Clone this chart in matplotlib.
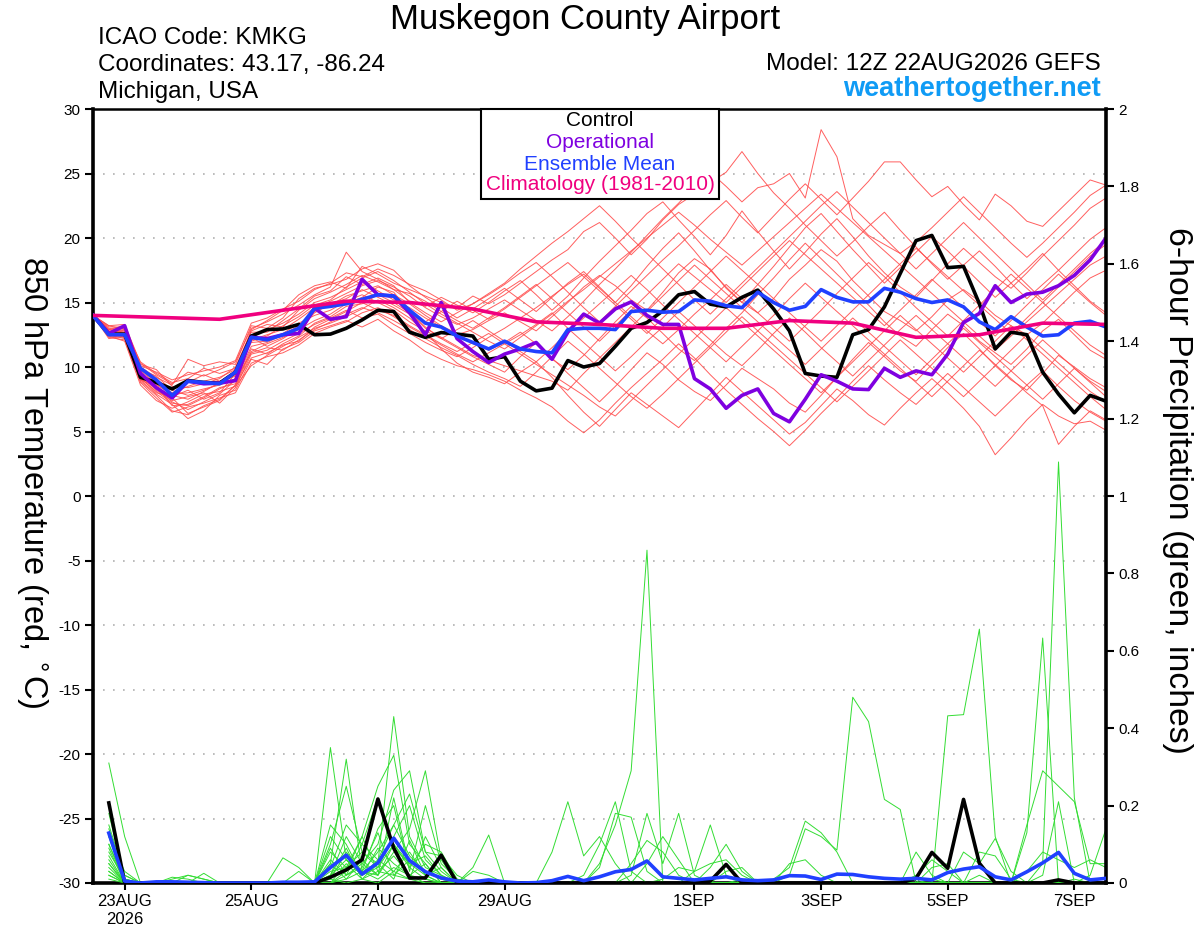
import numpy as np
import matplotlib.pyplot as plt
from matplotlib.patches import Rectangle

plt.rcParams['font.family'] = ['Liberation Sans', 'DejaVu Sans']
plt.rcParams['axes.unicode_minus'] = False

# forecast hours from 12Z 22AUG2026, 6-hourly
hours = np.arange(0, 385, 6)
precip_hours = hours[1:]
clim_hours = np.arange(0, 385, 24)

tick_hours = [12, 60, 108, 156, 228, 276, 324, 372]
tick_labels = ['23AUG\n2026', '25AUG', '27AUG', '29AUG', '1SEP', '3SEP', '5SEP', '7SEP']

# 850 hPa temperature (C)
control_t = [14.0, 12.55, 12.55, 9.2, 8.8, 8.3, 8.95, 8.8, 8.75, 9.6, 12.4, 12.9, 12.95,
             13.3, 12.5, 12.55, 13.0, 13.65, 14.4, 14.3, 12.7, 12.3, 12.67, 12.55, 12.4, 10.6,
             10.8, 8.9, 8.15, 8.36, 10.5, 10.0, 10.27, 11.6, 13.0, 13.45, 14.35, 15.6, 15.85,
             14.87, 14.66, 15.4, 15.96, 14.5, 12.8, 9.5, 9.3, 9.2, 12.5, 12.9, 14.66, 17.25,
             19.8, 20.2, 17.7, 17.8, 14.9, 11.4, 12.7, 12.5, 9.6, 7.9, 6.45, 7.8, 7.35]
operational_t = [14.0, 12.6, 13.2, 9.5, 8.4, 7.6, 8.9, 8.7, 8.75, 8.95, 12.3, 12.2, 12.5,
                 12.6, 14.55, 13.7, 13.9, 16.8, 15.6, 15.5, 14.2, 12.5, 15.0, 12.2, 11.2, 10.35,
                 11.0, 11.4, 11.9, 10.6, 12.7, 14.1, 13.4, 14.5, 15.05, 14.0, 13.3, 13.3, 9.1,
                 8.3, 6.8, 7.8, 8.3, 6.4, 5.75, 7.5, 9.4, 8.9, 8.3, 8.25, 9.9, 9.2,
                 9.7, 9.4, 11.0, 13.45, 14.15, 16.3, 15.0, 15.65, 15.8, 16.3, 17.1, 18.3, 20.0]
mean_t = [14.0, 12.5, 12.5, 9.9, 9.0, 7.8, 8.9, 8.8, 8.7, 9.6, 12.3, 12.1, 12.5,
          13.0, 14.55, 14.7, 14.9, 15.25, 15.6, 15.5, 14.4, 13.4, 13.1, 12.4, 11.9, 11.4,
          12.0, 11.4, 11.2, 11.1, 12.9, 13.0, 13.0, 12.9, 14.3, 14.4, 14.25, 14.3, 15.2,
          15.1, 14.75, 14.6, 15.8, 15.0, 14.4, 14.7, 16.0, 15.4, 15.05, 15.05, 16.1, 15.8,
          15.3, 15.0, 15.2, 14.66, 13.5, 12.9, 13.9, 13.1, 12.4, 12.5, 13.4, 13.55, 13.1]
climatology_t = [14.0, 13.85, 13.7, 14.4, 15.1, 15.0, 14.5, 13.5, 13.3,
                 13.0, 13.0, 13.6, 13.4, 12.3, 12.5, 13.4, 13.3]

member_temps = [
    [14.0, 12.9, 12.6, 9.8, 8.8, 8.0, 8.5, 8.9, 9.2, 9.8, 12.4, 12.9, 13.4,
     14.1, 15.0, 15.4, 16.0, 16.6, 15.9, 15.2, 14.6, 13.8, 13.1, 12.5, 12.9, 13.6,
     14.2, 13.5, 12.8, 13.9, 15.0, 16.2, 17.1, 16.3, 15.2, 14.4, 15.8, 17.3, 18.4,
     17.6, 16.1, 15.0, 14.2, 15.3, 16.8, 17.9, 19.1, 18.2, 16.7, 15.5, 14.3, 13.6,
     12.8, 13.9, 15.2, 16.0, 15.1, 14.0, 13.2, 12.5, 13.4, 14.6, 15.8, 16.9, 17.5],
    [14.0, 12.5, 12.2, 9.1, 8.1, 7.2, 7.0, 7.6, 8.3, 8.9, 11.6, 11.9, 12.5,
     13.2, 14.3, 14.8, 15.5, 15.9, 16.3, 15.6, 14.9, 14.0, 13.2, 12.6, 11.8, 11.3,
     11.9, 12.7, 11.8, 10.6, 9.8, 10.9, 12.2, 13.5, 14.7, 13.8, 12.6, 11.4, 10.5,
     11.7, 13.0, 14.2, 15.6, 16.9, 18.3, 19.6, 18.4, 17.2, 16.0, 14.8, 13.5, 12.4,
     11.6, 12.9, 14.1, 13.2, 12.0, 11.1, 10.2, 11.4, 12.8, 13.7, 12.5, 11.3, 10.6],
    [14.0, 13.2, 13.3, 10.3, 9.4, 8.7, 9.6, 9.3, 9.8, 10.4, 13.0, 13.5, 14.1,
     14.8, 15.6, 16.2, 18.9, 17.4, 16.8, 16.0, 15.1, 14.7, 15.4, 14.8, 14.2, 15.0,
     15.9, 16.7, 15.6, 14.4, 15.5, 16.9, 18.2, 19.4, 20.6, 21.9, 22.8, 21.4, 20.1,
     18.7, 20.2, 22.1, 20.5, 19.0, 17.6, 18.9, 20.3, 21.5, 20.1, 18.6, 17.3, 16.2,
     15.4, 16.7, 18.0, 19.2, 18.1, 17.0, 16.1, 17.3, 18.6, 19.8, 21.0, 22.3, 23.1],
    [14.0, 12.7, 12.9, 9.4, 8.4, 7.6, 6.4, 6.9, 7.4, 8.6, 11.2, 11.8, 12.3,
     12.9, 13.6, 14.1, 14.9, 15.4, 16.2, 15.8, 14.3, 13.1, 12.2, 11.5, 10.8, 10.2,
     9.6, 10.8, 11.9, 10.7, 9.5, 8.4, 7.3, 8.5, 9.8, 11.1, 10.2, 9.0, 8.1,
     7.4, 8.6, 9.9, 9.1, 8.3, 7.2, 6.5, 7.8, 9.2, 10.6, 11.9, 10.8, 9.7,
     8.9, 10.2, 11.5, 12.6, 11.4, 10.1, 9.0, 8.2, 9.5, 10.9, 10.0, 9.1, 8.4],
    [14.0, 12.4, 12.0, 8.6, 7.4, 6.8, 7.3, 7.9, 8.1, 8.5, 10.1, 10.9, 11.6,
     12.3, 13.0, 13.4, 13.9, 14.5, 15.2, 14.6, 13.8, 12.7, 11.4, 10.3, 9.6, 9.2,
     8.7, 9.6, 10.4, 9.2, 7.8, 6.5, 5.4, 6.7, 8.0, 7.1, 6.2, 5.3, 6.6,
     7.9, 9.2, 8.1, 7.0, 5.9, 4.8, 5.7, 7.0, 8.3, 7.4, 6.3, 5.5, 6.8,
     8.0, 9.1, 8.0, 6.8, 5.4, 3.2, 4.5, 5.9, 7.1, 6.2, 5.6, 5.8, 5.1],
    [14.0, 12.9, 13.0, 10.0, 9.2, 8.6, 10.6, 10.1, 10.4, 10.2, 13.2, 13.0, 13.8,
     15.3, 16.1, 16.4, 16.8, 17.6, 18.0, 17.5, 16.3, 15.4, 14.6, 13.8, 14.5, 15.3,
     16.1, 15.2, 14.3, 15.4, 16.5, 17.4, 16.2, 15.0, 16.3, 17.8, 19.2, 20.4, 19.0,
     17.5, 16.2, 15.0, 16.4, 17.8, 19.3, 20.8, 21.9, 20.5, 19.1, 17.8, 16.5, 17.7,
     18.9, 20.1, 19.0, 17.8, 16.6, 15.4, 16.5, 17.6, 18.8, 17.5, 16.3, 15.1, 14.2],
    [14.0, 12.6, 12.4, 9.0, 7.9, 7.1, 6.0, 6.6, 7.8, 8.2, 10.6, 10.2, 11.4,
     11.9, 12.8, 13.2, 13.6, 13.1, 13.7, 12.8, 12.1, 11.2, 10.6, 10.1, 9.8, 9.4,
     8.9, 8.2, 7.6, 6.9, 5.8, 4.9, 5.9, 7.2, 8.4, 9.5, 10.6, 11.8, 10.7,
     9.4, 8.2, 7.1, 6.0, 5.0, 3.9, 5.1, 6.4, 7.6, 8.9, 10.1, 9.0, 8.0,
     7.1, 8.3, 9.5, 8.4, 7.3, 6.2, 7.4, 8.6, 9.7, 8.5, 7.4, 6.5, 5.8],
    [14.0, 13.1, 13.1, 9.9, 9.0, 8.3, 8.8, 9.4, 8.9, 9.4, 12.9, 13.6, 14.4,
     15.6, 16.3, 16.6, 16.1, 17.8, 17.2, 16.5, 16.0, 15.5, 15.0, 14.6, 15.5, 14.9,
     15.6, 16.5, 17.4, 18.3, 19.1, 20.5, 21.2, 20.0, 18.7, 19.9, 21.4, 22.6, 23.4,
     24.3, 25.1, 26.7, 25.0, 23.5, 22.3, 21.0, 19.8, 18.6, 19.7, 20.9, 22.0, 20.6,
     19.3, 18.0, 16.8, 17.9, 19.0, 17.8, 16.5, 15.3, 16.4, 17.5, 18.7, 19.9, 20.8],
    [14.0, 12.3, 12.1, 8.8, 7.6, 6.5, 6.9, 7.2, 7.6, 8.0, 10.3, 10.8, 11.1,
     11.7, 12.6, 13.1, 13.5, 14.2, 14.6, 13.9, 13.1, 12.4, 11.7, 11.0, 10.4, 11.1,
     11.8, 12.5, 13.3, 14.2, 13.0, 11.9, 10.8, 9.7, 10.8, 12.0, 13.1, 14.3, 13.2,
     12.1, 11.0, 10.1, 11.3, 12.6, 13.8, 12.7, 11.5, 10.4, 9.3, 10.5, 11.7, 12.9,
     14.0, 12.9, 11.8, 10.7, 9.6, 8.5, 9.7, 10.9, 12.1, 11.0, 9.9, 8.9, 8.1],
    [14.0, 12.8, 12.7, 9.5, 8.6, 7.9, 8.0, 8.3, 8.6, 9.1, 12.1, 12.5, 12.9,
     13.7, 14.6, 15.1, 15.7, 16.3, 16.7, 16.2, 15.5, 14.6, 13.9, 13.3, 13.8, 14.5,
     15.2, 14.4, 13.6, 12.8, 13.9, 15.1, 16.4, 17.6, 18.9, 20.2, 21.5, 22.7, 24.0,
     25.1, 24.0, 22.8, 23.9, 24.2, 25.0, 23.1, 28.4, 26.3, 21.5, 20.2, 19.5, 18.8,
     19.7, 20.8, 22.0, 23.2, 22.0, 20.8, 19.6, 18.5, 19.6, 20.8, 22.0, 23.3, 24.1],
    [14.0, 12.6, 12.3, 9.3, 8.2, 7.4, 7.7, 8.0, 7.2, 8.4, 11.0, 11.3, 12.0,
     12.6, 13.3, 13.8, 14.4, 13.8, 14.1, 13.3, 12.6, 11.9, 11.3, 10.8, 11.5, 12.3,
     13.0, 13.8, 14.6, 15.5, 16.4, 17.2, 16.1, 15.0, 13.9, 12.8, 11.8, 12.9, 14.1,
     15.2, 16.4, 15.3, 14.2, 13.1, 12.0, 13.2, 14.4, 15.7, 16.9, 18.1, 17.0, 15.8,
     14.6, 13.5, 12.4, 13.6, 14.8, 16.0, 17.2, 16.1, 15.0, 13.9, 12.8, 11.7, 10.9],
    [14.0, 13.0, 12.8, 10.1, 9.6, 9.0, 9.4, 9.7, 10.0, 10.5, 13.4, 13.8, 14.5,
     15.1, 16.0, 16.5, 17.3, 17.0, 17.6, 17.1, 16.4, 15.9, 15.2, 14.4, 14.9, 15.6,
     16.4, 17.3, 18.1, 17.0, 15.8, 14.6, 13.5, 14.7, 15.9, 17.1, 18.3, 19.4, 20.6,
     21.8, 22.9, 21.6, 20.4, 21.7, 23.0, 24.2, 23.0, 21.8, 23.1, 24.4, 25.9, 25.9,
     24.5, 23.2, 24.0, 22.6, 21.4, 23.4, 22.5, 21.3, 20.9, 22.1, 23.3, 24.5, 24.1],
    [14.0, 12.5, 12.6, 9.2, 8.0, 7.7, 8.2, 7.5, 8.0, 9.5, 11.9, 12.0, 12.6,
     13.4, 14.0, 14.4, 15.1, 15.6, 15.0, 14.4, 13.5, 12.8, 12.2, 12.9, 13.6, 12.8,
     12.0, 11.2, 10.4, 11.5, 12.7, 13.8, 14.9, 16.0, 17.1, 16.0, 14.8, 13.7, 12.6,
     11.5, 10.4, 11.6, 12.8, 14.0, 15.3, 16.5, 15.4, 14.3, 13.2, 12.1, 11.0, 9.9,
     8.8, 7.7, 8.9, 10.1, 11.3, 10.2, 9.1, 8.0, 7.0, 4.0, 5.4, 6.6, 5.9],
    [14.0, 12.7, 12.5, 9.7, 8.7, 7.8, 7.5, 8.1, 8.8, 9.3, 12.3, 11.6, 12.2,
     13.0, 14.2, 14.9, 15.3, 16.0, 15.4, 14.8, 14.1, 13.5, 14.3, 15.1, 14.4, 13.7,
     14.5, 15.4, 16.3, 17.2, 18.1, 17.0, 15.9, 14.8, 13.7, 12.6, 13.8, 15.0, 16.2,
     17.4, 18.6, 17.5, 16.4, 15.3, 14.2, 13.1, 12.0, 13.2, 14.4, 15.6, 16.8, 18.0,
     19.2, 18.1, 17.0, 15.9, 14.8, 13.7, 12.6, 13.8, 15.0, 16.2, 17.4, 18.6, 19.5],
    [14.0, 12.4, 12.3, 9.0, 8.5, 7.0, 7.1, 7.7, 8.4, 8.7, 11.4, 11.0, 11.8,
     12.4, 13.4, 13.9, 14.7, 14.9, 15.6, 15.0, 14.2, 13.0, 12.3, 11.6, 10.9, 10.5,
     10.1, 9.7, 9.3, 8.9, 8.2, 9.5, 10.7, 11.9, 13.1, 14.3, 15.5, 16.7, 17.9,
     16.8, 15.7, 14.6, 13.5, 12.4, 11.3, 10.2, 11.4, 12.6, 13.8, 12.7, 11.6, 10.5,
     9.4, 10.6, 11.8, 13.0, 11.9, 10.8, 9.7, 8.6, 7.5, 8.7, 9.9, 8.8, 7.7],
    [14.0, 13.2, 12.9, 10.4, 9.5, 8.8, 9.1, 9.9, 9.5, 9.9, 12.8, 13.3, 13.1,
     14.4, 15.3, 15.8, 16.4, 17.1, 16.6, 16.0, 15.7, 15.1, 14.3, 13.6, 13.0, 13.8,
     14.6, 15.5, 16.4, 15.3, 14.2, 13.1, 12.0, 13.2, 14.4, 15.6, 16.8, 18.0, 17.0,
     16.0, 15.0, 16.2, 17.4, 18.6, 19.8, 18.7, 17.6, 16.5, 15.4, 14.3, 13.2, 14.4,
     15.6, 16.8, 15.7, 14.6, 13.5, 12.4, 13.6, 14.8, 16.0, 17.2, 16.1, 15.0, 14.0],
    [14.0, 12.6, 12.8, 9.4, 8.3, 7.3, 6.7, 7.3, 7.9, 9.0, 11.1, 11.5, 11.3,
     12.1, 12.9, 13.5, 14.1, 14.6, 14.2, 13.6, 12.9, 12.2, 11.5, 10.9, 10.2, 9.6,
     9.1, 8.5, 9.6, 10.8, 12.0, 11.0, 9.9, 8.8, 7.7, 6.8, 7.9, 9.1, 10.3,
     11.5, 12.7, 13.9, 12.8, 11.7, 10.6, 9.5, 8.4, 7.3, 8.5, 9.7, 10.9, 12.1,
     11.0, 9.9, 8.8, 7.7, 8.9, 10.1, 11.3, 12.5, 11.4, 10.3, 9.2, 8.1, 7.3],
    [14.0, 12.9, 13.2, 10.2, 9.8, 8.5, 8.4, 8.7, 9.1, 10.0, 12.7, 12.7, 13.6,
     14.5, 15.5, 15.9, 17.0, 16.4, 16.9, 16.3, 15.0, 14.2, 13.5, 14.2, 14.9, 15.7,
     16.5, 17.6, 18.6, 19.6, 20.5, 21.5, 22.5, 21.3, 20.0, 18.8, 17.6, 16.4, 15.2,
     14.1, 15.3, 16.5, 17.7, 18.9, 20.1, 21.3, 22.5, 23.6, 22.4, 21.2, 20.0, 18.8,
     17.6, 18.8, 20.0, 21.2, 20.0, 18.8, 17.6, 16.4, 15.2, 16.4, 17.6, 18.8, 19.8],
    [14.0, 12.2, 12.4, 8.9, 7.8, 6.6, 6.3, 7.0, 7.5, 8.6, 10.7, 11.1, 11.7,
     12.0, 13.1, 13.7, 14.3, 15.0, 14.4, 14.0, 13.2, 12.5, 11.8, 11.2, 11.9, 12.6,
     11.8, 11.0, 10.2, 9.4, 8.6, 7.8, 6.9, 6.2, 7.4, 8.6, 9.8, 11.0, 12.2,
     13.4, 14.6, 13.5, 12.4, 11.3, 10.2, 9.1, 8.0, 9.2, 10.4, 11.6, 12.8, 14.0,
     12.9, 11.8, 10.7, 9.6, 10.8, 12.0, 13.2, 12.1, 11.0, 9.9, 8.8, 7.7, 6.7],
    [14.0, 12.8, 12.3, 9.8, 9.3, 8.2, 7.8, 8.2, 8.7, 9.7, 12.0, 12.4, 13.2,
     13.9, 14.8, 15.2, 16.2, 16.9, 17.4, 16.7, 15.8, 14.9, 14.1, 13.4, 12.7, 12.0,
     11.4, 12.3, 13.2, 14.1, 15.1, 16.0, 17.0, 18.0, 19.0, 20.0, 21.0, 22.0, 21.0,
     19.9, 18.9, 17.9, 19.0, 20.1, 21.2, 22.3, 23.4, 22.3, 21.2, 20.1, 19.0, 17.9,
     16.8, 15.7, 14.6, 13.5, 12.4, 11.3, 12.4, 13.5, 14.6, 15.7, 16.8, 17.9, 18.6],
]

# 6-hour precipitation (inches), hours 6..384
control_p = [0.207, 0, 0, 0, 0, 0, 0, 0, 0, 0, 0, 0, 0, 0, 0.015, 0.034,
             0.06, 0.217, 0.09, 0.013, 0.013, 0.072, 0, 0, 0, 0, 0, 0, 0, 0, 0, 0,
             0, 0, 0, 0, 0, 0, 0.005, 0.048, 0, 0, 0, 0, 0, 0, 0, 0,
             0, 0, 0, 0.012, 0.079, 0.038, 0.216, 0.051, 0, 0, 0, 0, 0.008, 0, 0, 0]
mean_p = [0.129, 0.005, 0, 0.003, 0.003, 0.002, 0.001, 0, 0, 0, 0, 0.002, 0.002, 0.003, 0.04, 0.072,
          0.023, 0.052, 0.116, 0.058, 0.029, 0.013, 0.005, 0.003, 0.008, 0.003, 0, 0.001, 0.006, 0.017, 0.006, 0.016,
          0.029, 0.035, 0.057, 0.016, 0.012, 0.008, 0.012, 0.016, 0.008, 0.006, 0.008, 0.019, 0.018, 0.009, 0.023, 0.022,
          0.016, 0.012, 0.010, 0.012, 0.008, 0.027, 0.036, 0.042, 0.016, 0.008, 0.029, 0.052, 0.079, 0.025, 0.008, 0.012]

member_precip = [
    [.31, .12, 0, 0, .01, .02, .01, 0, 0, 0, 0, 0, 0, 0, .35, .06,
     .02, .04, .10, .05, .02, 0, 0, 0, 0, 0, 0, 0, 0, 0, .02, .10,
     .21, .03, 0, 0, 0, 0, 0, 0, .01, 0, 0, 0, 0, 0, 0, 0,
     0, 0, 0, 0, 0, 0, 0, 0, 0, 0, 0, 0, 0, .01, 0, 0],
    [.15, .02, 0, 0, .015, .01, 0, 0, 0, 0, 0, 0, 0, 0, .05, .32,
     .03, .08, .15, .07, .03, .01, 0, 0, 0, 0, 0, 0, 0, 0, 0, .04,
     .18, .17, .03, 0, 0, 0, 0, 0, 0, 0, 0, 0, 0, 0, 0, 0,
     0, 0, 0, 0, 0, 0, 0, .02, 0, 0, 0, 0, 0, 0, 0, 0],
    [.12, .03, 0, 0, 0, .02, .01, 0, 0, 0, 0, 0, 0, 0, .10, .25,
     .08, .05, .43, .12, .04, .02, 0, .04, .124, 0, 0, 0, 0, 0, 0, 0,
     0, 0, 0, 0, 0, 0, 0, 0, 0, 0, 0, .02, .14, .12, .085, .48,
     .417, .216, .19, 0, 0, 0, 0, 0, 0, 0, 0, 0, 0, 0, 0, 0],
    [.10, 0, 0, 0, 0, 0, 0, 0, 0, 0, 0, 0, 0, 0, .08, .04,
     .12, .25, .33, .10, .05, 0, 0, 0, 0, 0, 0, 0, 0, 0, 0, .05,
     .15, .29, .86, 0, 0, 0, 0, 0, 0, 0, 0, 0, 0, 0, 0, 0,
     0, 0, 0, 0, .01, 0, 0, 0, 0, 0, 0, 0, 0, 0, 0, 0],
    [.08, .01, 0, 0, 0, 0, .025, 0, 0, 0, 0, 0, 0, 0, .02, .12,
     .05, .10, .24, .29, .08, .03, 0, 0, 0, 0, 0, 0, .08, .21, .07, .12,
     .05, 0, 0, 0, 0, 0, 0, 0, 0, 0, 0, 0, 0, 0, 0, 0,
     0, 0, 0, 0, 0, 0, 0, 0, 0, 0, 0, 0, 0, 0, 0, 0],
    [.06, 0, 0, 0, 0, 0, 0, 0, 0, 0, 0, 0, 0, 0, .12, .06,
     .03, .02, .08, .14, .29, .06, 0, 0, 0, 0, 0, 0, 0, 0, 0, 0,
     0, .02, .18, .05, .18, .02, 0, 0, 0, 0, 0, 0, 0, 0, 0, 0,
     0, 0, 0, 0, 0, .432, .435, .656, .12, 0, 0, 0, 0, 0, 0, 0],
    [.05, 0, 0, 0, 0, 0, 0, 0, 0, 0, 0, 0, 0, 0, .04, .15,
     .10, .06, .15, .23, .08, .07, .02, 0, 0, 0, 0, 0, 0, 0, 0, 0,
     0, .05, .11, .08, .02, 0, 0, 0, 0, 0, 0, 0, 0, 0, 0, 0,
     0, 0, 0, 0, 0, 0, 0, 0, 0, 0, .13, .633, 0, 0, 0, 0],
    [.04, 0, 0, 0, 0, 0, 0, 0, 0, 0, 0, .065, .04, 0, .06, .02,
     .10, .22, .09, .05, .07, .02, 0, .03, .02, 0, 0, 0, 0, 0, 0, 0,
     0, 0, 0, 0, 0, 0, 0, 0, 0, 0, 0, 0, 0, 0, 0, 0,
     0, 0, 0, 0, 0, 0, .08, .05, .115, .03, 0, 0, 0, 0, 0, 0],
    [.02, 0, 0, 0, 0, 0, 0, 0, 0, 0, 0, 0, .03, 0, .01, .08,
     .03, .14, .20, .03, .20, .05, .01, 0, 0, 0, 0, 0, 0, 0, 0, 0,
     0, 0, .05, .12, .06, 0, 0, 0, 0, 0, 0, 0, 0, 0, 0, 0,
     0, 0, 0, 0, 0, 0, 0, 0, 0, 0, 0, .05, 1.088, .22, 0, 0],
    [.03, 0, 0, 0, 0, 0, 0, 0, 0, 0, 0, 0, 0, 0, .03, .04,
     .08, .04, .12, .20, .06, .02, 0, 0, 0, 0, 0, 0, 0, 0, 0, 0,
     0, 0, 0, .01, .04, .03, .15, .02, 0, 0, 0, 0, 0, 0, 0, 0,
     0, 0, 0, 0, 0, 0, 0, 0, 0, 0, .15, .29, .25, .21, .05, .05],
    [.02, 0, 0, 0, 0, 0, 0, 0, 0, 0, 0, 0, 0, 0, .15, .10,
     .02, .06, .03, .08, .02, .04, 0, 0, 0, 0, 0, 0, 0, 0, 0, 0,
     0, 0, 0, 0, 0, 0, .04, .10, .03, 0, 0, 0, 0, 0, 0, 0,
     0, 0, 0, 0, 0, 0, 0, 0, 0, 0, 0, .02, .21, 0, 0, 0],
    [.01, 0, 0, 0, 0, 0, 0, 0, 0, 0, 0, 0, 0, 0, 0, .02,
     .05, .02, .10, .04, .10, .08, .01, 0, 0, 0, 0, 0, 0, 0, 0, 0,
     0, 0, 0, 0, 0, .03, .05, .06, .02, 0, 0, 0, 0, 0, 0, 0,
     0, 0, 0, 0, 0, 0, 0, 0, 0, 0, .03, .08, .06, .04, .06, .04],
    [.10, .01, 0, 0, 0, 0, 0, 0, 0, 0, 0, 0, 0, 0, .02, .06,
     .02, .09, .05, .02, .01, 0, 0, 0, 0, 0, 0, 0, 0, 0, 0, 0,
     0, 0, 0, 0, 0, 0, 0, .03, .04, 0, 0, 0, 0, 0, 0, 0,
     0, 0, 0, 0, 0, 0, 0, 0, 0, 0, 0, 0, 0, 0, .02, .14],
    [.05, 0, 0, 0, 0, 0, 0, 0, 0, 0, 0, 0, 0, 0, 0, .03,
     .12, .03, .07, .02, .05, 0, 0, 0, 0, 0, 0, 0, 0, 0, 0, 0,
     0, 0, 0, 0, 0, 0, 0, 0, 0, 0, .01, .04, .16, .13, .08, 0,
     0, 0, 0, 0, 0, 0, 0, 0, 0, 0, 0, 0, 0, 0, 0, 0],
    [.14, .02, 0, 0, 0, 0, 0, 0, 0, 0, 0, 0, 0, 0, .09, .02,
     .04, .13, .02, .01, 0, 0, 0, 0, 0, 0, 0, 0, 0, 0, 0, 0,
     0, 0, 0, 0, 0, 0, 0, 0, 0, 0, 0, .05, .06, .02, 0, 0,
     0, 0, 0, 0, 0, 0, 0, 0, 0, 0, 0, 0, 0, 0, 0, 0],
    [.07, 0, 0, 0, 0, 0, 0, 0, 0, 0, 0, 0, 0, 0, .01, 0,
     .01, .03, .02, .06, .03, .01, 0, 0, 0, 0, 0, 0, 0, 0, 0, 0,
     0, 0, 0, 0, 0, 0, 0, 0, 0, 0, 0, 0, 0, 0, 0, 0,
     0, 0, 0, .08, .02, 0, 0, 0, 0, 0, 0, 0, 0, 0, 0, 0],
    [.09, 0, 0, 0, 0, 0, 0, 0, 0, 0, 0, 0, 0, 0, 0, .05,
     .01, 0, .03, .01, .12, .04, 0, 0, 0, 0, 0, 0, 0, 0, 0, 0,
     0, 0, 0, 0, 0, 0, 0, 0, 0, 0, 0, 0, 0, 0, 0, 0,
     0, 0, 0, .02, .06, .03, 0, 0, 0, 0, 0, 0, 0, 0, 0, 0],
    [.12, 0, 0, 0, 0, 0, 0, 0, 0, 0, 0, 0, 0, 0, .05, .01,
     .06, .02, .22, .04, .01, 0, 0, 0, 0, 0, 0, 0, 0, 0, 0, 0,
     0, 0, 0, 0, 0, 0, 0, 0, 0, 0, 0, 0, 0, 0, 0, 0,
     0, 0, 0, 0, .04, .05, 0, 0, 0, 0, 0, 0, 0, 0, 0, 0],
    [.03, 0, 0, 0, 0, 0, 0, 0, 0, 0, 0, 0, 0, 0, .02, .09,
     .01, .05, .01, .11, .02, 0, 0, 0, 0, 0, 0, 0, 0, 0, 0, 0,
     0, 0, 0, 0, 0, 0, 0, 0, 0, 0, 0, 0, 0, 0, 0, 0,
     0, 0, 0, 0, 0, 0, 0, .08, .07, .01, 0, 0, 0, 0, 0, 0],
    [.18, .01, 0, 0, 0, 0, 0, 0, 0, 0, 0, 0, 0, 0, 0, .01,
     .03, .01, .04, .02, 0, 0, 0, 0, 0, 0, 0, 0, 0, 0, 0, 0,
     0, 0, 0, 0, 0, 0, 0, 0, 0, 0, 0, 0, 0, 0, 0, 0,
     0, 0, 0, 0, 0, 0, 0, 0, 0, 0, 0, 0, 0, 0, 0, 0],
]

W, H = 1200, 927
fig = plt.figure(figsize=(W / 100, H / 100), dpi=100)
ax = fig.add_axes([93 / W, 1 - 883 / H, (1106 - 93) / W, (883 - 109) / H])
ax2 = ax.twinx()

for m in member_temps:
    ax.plot(hours, m, color='#ff4d4d', lw=0.7, alpha=0.9, zorder=2)
ax.plot(hours, control_t, color='black', lw=2.6, zorder=4)
ax.plot(hours, operational_t, color='#7f00e0', lw=2.6, zorder=5)
ax.plot(hours, mean_t, color='#2040ff', lw=2.6, zorder=6)
ax.plot(clim_hours, climatology_t, color='#f0007f', lw=2.6, zorder=7)

for m in member_precip:
    ax2.plot(precip_hours, m, color='#33dd33', lw=0.7, zorder=2)
ax2.plot(precip_hours, control_p, color='black', lw=2.6, zorder=4)
ax2.plot(precip_hours, mean_p, color='#2040ff', lw=2.6, zorder=5)

ax.set_xlim(0, 384)
ax.set_ylim(-30, 30)
ax2.set_ylim(0, 2)

ax.set_yticks(range(-30, 31, 5))
ax.yaxis.grid(True, color='#b0b0b0', linestyle=(0, (1, 5)), lw=1.2)
ax.set_axisbelow(True)
ax.set_xticks(tick_hours, tick_labels)
pticks = np.arange(0, 2.01, 0.2)
ax2.set_yticks(pticks, [f'{v:g}' for v in pticks])

ax.tick_params(axis='y', direction='out', length=6, width=1.5, labelsize=11, pad=3)
ax.tick_params(axis='x', direction='out', length=5, width=1.5, labelsize=12, pad=3)
ax2.tick_params(axis='y', direction='out', length=6, width=1.5, labelsize=11, pad=3)

for s in ['left', 'bottom']:
    ax.spines[s].set_linewidth(2.6)
ax.spines['top'].set_linewidth(1.8)
ax.spines['right'].set_visible(False)
for s in ['left', 'top', 'bottom']:
    ax2.spines[s].set_visible(False)
ax2.spines['right'].set_linewidth(2.6)

# axis titles, both read top to bottom
fig.text(32 / W, 1 - 482 / H, '850 hPa Temperature (red, $^{\\circ}$C)', rotation=270,
         ha='center', va='center', fontsize=23.5)
fig.text(1178 / W, 1 - 490 / H, '6-hour Precipitation (green, inches)', rotation=270,
         ha='center', va='center', fontsize=24.3)

# header
fig.text(585 / W, 1 - 19 / H, 'Muskegon County Airport', ha='center', va='center', fontsize=25)
fig.text(98 / W, 1 - 38 / H, 'ICAO Code: KMKG', ha='left', va='center', fontsize=17.5)
fig.text(98 / W, 1 - 65 / H, 'Coordinates: 43.17, -86.24', ha='left', va='center', fontsize=17.5)
fig.text(98 / W, 1 - 92 / H, 'Michigan, USA', ha='left', va='center', fontsize=17.5)
fig.text(1101 / W, 1 - 64 / H, 'Model: 12Z 22AUG2026 GEFS', ha='right', va='center', fontsize=17.5)
fig.text(1101 / W, 1 - 89 / H, 'weathertogether.net', ha='right', va='center', fontsize=19.5,
         fontweight='bold', color='#0f9bf5', family=['Liberation Sans Narrow', 'Liberation Sans'])

# legend box
fig.patches.append(Rectangle((481 / W, 1 - 199 / H), (719 - 481) / W, 90 / H,
                             transform=fig.transFigure, facecolor='white',
                             edgecolor='black', lw=1.5, zorder=10))
legend_items = [('Control', 'black', 121), ('Operational', '#7f00e0', 142),
                ('Ensemble Mean', '#2040ff', 164), ('Climatology (1981-2010)', '#f0007f', 185)]
for label, col, yy in legend_items:
    fig.text(600 / W, 1 - yy / H, label, color=col, ha='center', va='center',
             fontsize=15, zorder=11)

fig.savefig('out.png', dpi=100)
